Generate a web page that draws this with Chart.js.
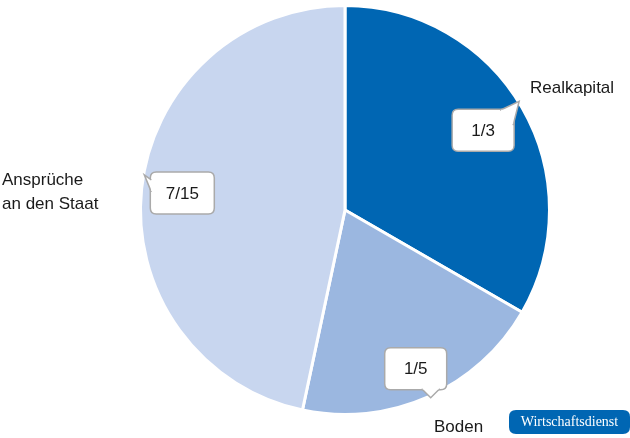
<!DOCTYPE html>
<html><head><meta charset="utf-8">
<script src="https://cdn.jsdelivr.net/npm/chart.js@4"></script>
<style>html,body{margin:0;padding:0;background:#fff}#w{width:630px;height:438px}</style>
</head><body><div id="w"><canvas id="c"></canvas></div>
<script>
const categories = ["Realkapital", "Boden", "Ansprüche an den Staat"];
const values = [1/3, 1/5, 7/15];
const valueLabels = ["1/3", "1/5", "7/15"];
const colors = ["#0066b3", "#9bb7e0", "#c8d6ef"];

function rr(ctx,x,y,w,h,r){ctx.beginPath();ctx.moveTo(x+r,y);ctx.lineTo(x+w-r,y);ctx.quadraticCurveTo(x+w,y,x+w,y+r);ctx.lineTo(x+w,y+h-r);ctx.quadraticCurveTo(x+w,y+h,x+w-r,y+h);ctx.lineTo(x+r,y+h);ctx.quadraticCurveTo(x,y+h,x,y+h-r);ctx.lineTo(x,y+r);ctx.quadraticCurveTo(x,y,x+r,y);ctx.closePath();}

const deco = {
  id:'deco',
  afterDraw(chart){
    const ctx = chart.ctx;
    const meta = chart.getDatasetMeta(0);
    const fr = [0.78, 0.85, 0.8];
    const ptr = ['tr','b','l'];
    meta.data.forEach((arc,i)=>{
      const p = arc.getProps(['x','y','startAngle','endAngle','outerRadius'],true);
      const a = (p.startAngle+p.endAngle)/2;
      const cx = p.x + Math.cos(a)*p.outerRadius*fr[i];
      const cy = p.y + Math.sin(a)*p.outerRadius*fr[i];
      const w = i===2?64:62, h=42;
      const x=cx-w/2, y=cy-h/2;
      ctx.save();
      rr(ctx,x,y,w,h,6);
      ctx.fillStyle='#fff';ctx.fill();
      ctx.strokeStyle='#aaaaaa';ctx.lineWidth=1.5;ctx.stroke();
      // pointer
      ctx.beginPath();
      if(ptr[i]==='tr'){ctx.moveTo(x+w-1,y+16);ctx.lineTo(x+w+5,y-8);ctx.lineTo(x+w-14,y+1);}
      else if(ptr[i]==='b'){ctx.moveTo(x+w/2+6,y+h-1);ctx.lineTo(x+w/2+15,y+h+8);ctx.lineTo(x+w/2+24,y+h-1);}
      else {ctx.moveTo(x+1,y+8);ctx.lineTo(x-6,y+3);ctx.lineTo(x+1,y+20);}
      ctx.fillStyle='#fff';ctx.fill();
      ctx.stroke();
      ctx.fillStyle='#fff';
      if(ptr[i]==='tr'){ctx.fillRect(x+w-13,y+0.5,12,14);}
      else if(ptr[i]==='b'){ctx.fillRect(x+w/2+7,y+h-4,16,3.6);}
      else {ctx.fillRect(x+0.8,y+9,3,10);}
      ctx.fillStyle='#1a1a1a';ctx.font='17px "Liberation Sans", Arial, sans-serif';
      ctx.textAlign='center';ctx.textBaseline='middle';
      ctx.fillText(valueLabels[i],cx,cy+1);
      ctx.restore();
    });
    ctx.save();
    ctx.fillStyle='#1a1a1a';ctx.font='17px "Liberation Sans", Arial, sans-serif';
    ctx.textBaseline='middle';ctx.textAlign='left';
    ctx.fillText(categories[0],530,88);
    ctx.fillText(categories[1],434,427);
    ctx.fillText("Ansprüche",2,180);
    ctx.fillText("an den Staat",2,204);
    rr(ctx,509,410,121,24,7);ctx.fillStyle='#0066b3';ctx.fill();
    ctx.fillStyle='#fff';ctx.font='14px "Liberation Serif", "DejaVu Serif", serif';
    ctx.textAlign='center';ctx.fillText('Wirtschaftsdienst',569.5,422.5);
    ctx.restore();
  }
};

new Chart(document.getElementById('c'),{
  type:'pie',
  data:{labels:categories,datasets:[{data:values,backgroundColor:colors,borderColor:'#fff',borderWidth:3}]},
  options:{responsive:true,maintainAspectRatio:false,animation:false,
    layout:{padding:{left:139,right:79,top:3,bottom:21}},
    plugins:{legend:{display:false},tooltip:{enabled:false}}},
  plugins:[deco]
});
</script></body></html>
